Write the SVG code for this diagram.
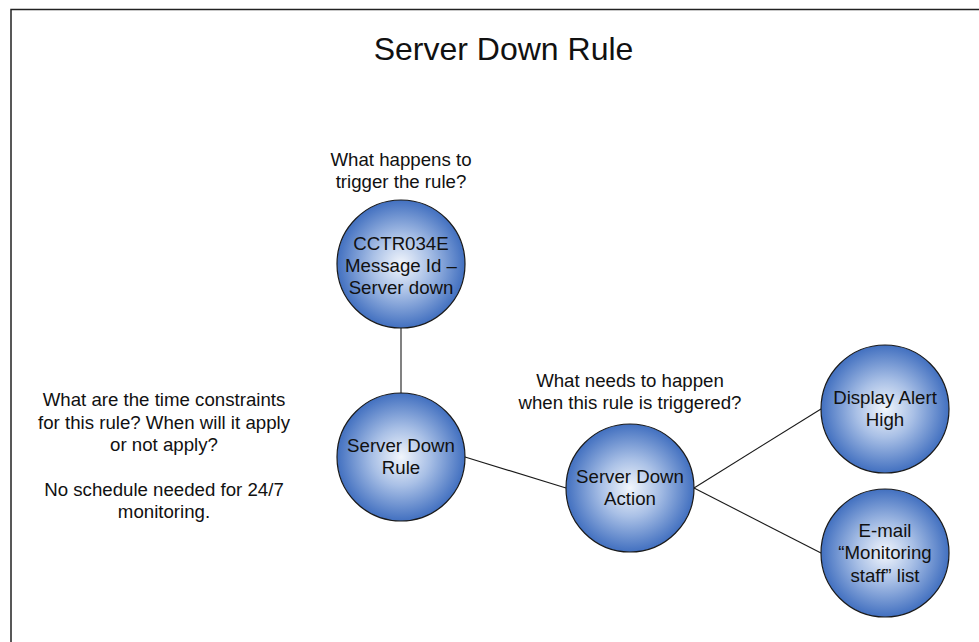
<svg xmlns="http://www.w3.org/2000/svg" width="979" height="642" viewBox="0 0 979 642">
<defs>
<radialGradient id="g" cx="50%" cy="50%" r="50%">
<stop offset="0" stop-color="#f2f6fc"/>
<stop offset="0.45" stop-color="#a9c0e6"/>
<stop offset="1" stop-color="#4270c0"/>
</radialGradient>
</defs>
<style>
text{font-family:"Liberation Sans",Arial,sans-serif;font-size:18.67px;fill:#111;text-anchor:middle}
.title{font-size:32px}
.node circle{fill:url(#g);stroke:#1a1a1a;stroke-width:1.2}
.conn line{stroke:#1a1a1a;stroke-width:1.1}
</style>
<rect width="979" height="642" fill="#fff"/>
<rect x="11" y="9.5" width="1000" height="700" fill="none" stroke="#222" stroke-width="1.5"/>
<text class="title" x="503.5" y="60">Server Down Rule</text>
<g id="labels">
<text x="401" y="166">What happens to</text>
<text x="401" y="188">trigger the rule?</text>
<text x="630" y="387">What needs to happen</text>
<text x="630" y="409">when this rule is triggered?</text>
<text x="164" y="406">What are the time constraints</text>
<text x="164" y="429">for this rule? When will it apply</text>
<text x="164" y="451">or not apply?</text>
<text x="164" y="496">No schedule needed for 24/7</text>
<text x="164" y="518">monitoring.</text>
</g>
<g id="connectors" class="conn">
<line x1="401" y1="328" x2="401" y2="393"/>
<line x1="465" y1="457" x2="566" y2="488"/>
<line x1="694" y1="488" x2="821" y2="409"/>
<line x1="694" y1="488" x2="821" y2="553"/>
</g>
<g id="n-trigger" class="node">
<circle cx="401" cy="264" r="64"/>
<text x="401" y="250">CCTR034E</text>
<text x="401" y="272">Message Id –</text>
<text x="401" y="294">Server down</text>
</g>
<g id="n-rule" class="node">
<circle cx="401" cy="457" r="64"/>
<text x="401" y="452">Server Down</text>
<text x="401" y="474">Rule</text>
</g>
<g id="n-action" class="node">
<circle cx="630" cy="488" r="64"/>
<text x="630" y="483">Server Down</text>
<text x="630" y="505">Action</text>
</g>
<g id="n-display" class="node">
<circle cx="885" cy="409" r="64"/>
<text x="885" y="404">Display Alert</text>
<text x="885" y="426">High</text>
</g>
<g id="n-email" class="node">
<circle cx="885" cy="553" r="64"/>
<text x="885" y="537">E-mail</text>
<text x="885" y="559">“Monitoring</text>
<text x="885" y="582">staff” list</text>
</g>
</svg>
